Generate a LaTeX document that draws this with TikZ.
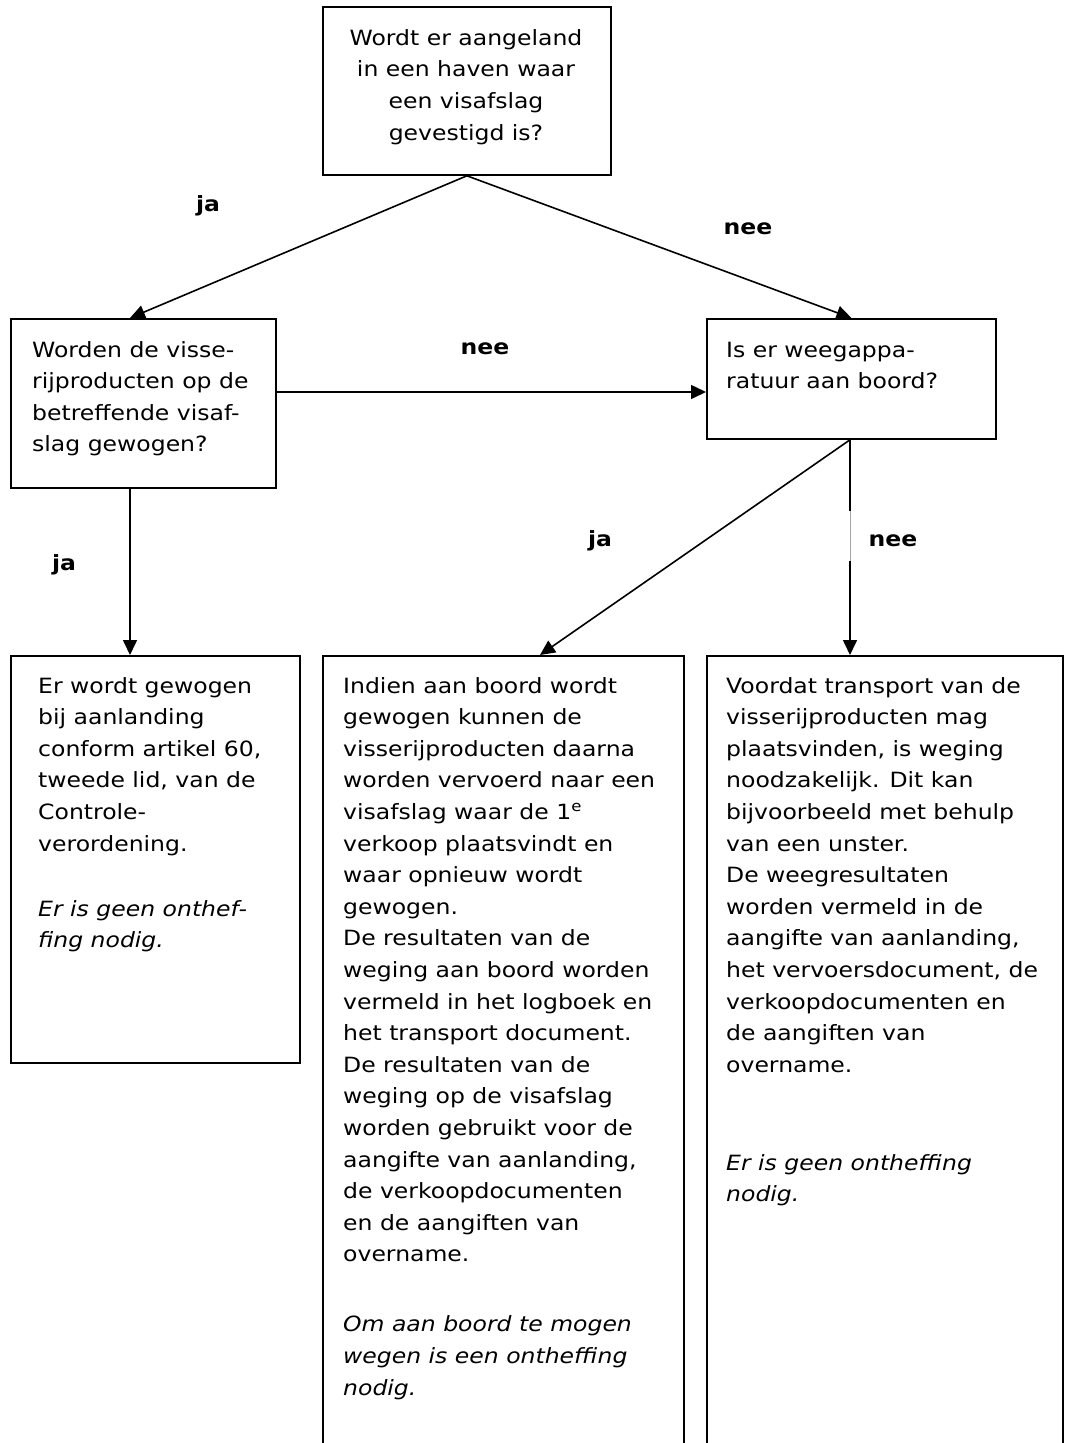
\documentclass[tikz,border=0pt]{standalone}
\usepackage{fontspec}
\setmainfont[FakeStretch=1.12]{DejaVu Sans}
\usetikzlibrary{arrows.meta,calc}
\newcommand\txtblock[1]{\vtop{\baselineskip=31.6pt\lineskiplimit=-100pt\halign{##\hfil\cr#1\crcr}}}
\newcommand\ctrblock[1]{\vtop{\baselineskip=31.8pt\lineskiplimit=-100pt\halign{\hfil##\hfil\cr#1\crcr}}}
\tikzset{
  box/.style={draw=black, line width=1.8pt, inner sep=0pt, anchor=north west},
  txt/.style={anchor=base west, inner sep=0pt},
  lbl/.style={anchor=base, inner sep=0pt, font=\fontsize{21}{31.6}\selectfont\bfseries},
  arr/.style={draw=black, line width=1.6pt, -{Triangle[length=15pt,width=14pt]}}
}
\begin{document}
\begin{tikzpicture}[x=1pt,y=-1pt, every node/.append style={font=\fontsize{21}{31.6}\selectfont}]
\clip (0,0) rectangle (1071,1443);
\fill[white] (0,0) rectangle (1071,1443);
% boxes
\node[box, minimum width=288pt, minimum height=168pt] (q1) at (322,6) {};
\node[box, minimum width=265pt, minimum height=169pt] (q2) at (10,318) {};
\node[box, minimum width=289pt, minimum height=120pt] (q3) at (706,318) {};
\node[box, minimum width=289pt, minimum height=407pt] (r1) at (10,655) {};
\node[box, minimum width=361pt, minimum height=830pt] (r2) at (322,655) {};
\node[box, minimum width=356pt, minimum height=830pt] (r3) at (706,655) {};
% texts
\node[anchor=base, inner sep=0pt] (tq1) at (466,45) {\ctrblock{Wordt er aangeland\cr in een haven waar\cr een visafslag\cr gevestigd is?}};
\node[txt] (tq2) at (32,357) {\txtblock{Worden de visse-\cr rijproducten op de\cr betreffende visaf-\cr slag gewogen?}};
\node[txt] (tq3) at (726,357) {\txtblock{Is er weegappa-\cr ratuur aan boord?}};
\node[txt] (tr1) at (38,693) {\txtblock{Er wordt gewogen\cr bij aanlanding\cr conform artikel 60,\cr tweede lid, van de\cr Controle-\cr verordening.\cr
\noalign{\vskip 33.4pt}
\itshape Er is geen onthef-\cr \itshape fing nodig.}};
\node[txt] (tr2) at (343,693) {\txtblock{Indien aan boord wordt\cr gewogen kunnen de\cr visserijproducten daarna\cr worden vervoerd naar een\cr visafslag waar de 1\textsuperscript{e}\cr verkoop plaatsvindt en\cr waar opnieuw wordt\cr gewogen.\cr De resultaten van de\cr weging aan boord worden\cr vermeld in het logboek en\cr het transport document.\cr De resultaten van de\cr weging op de visafslag\cr worden gebruikt voor de\cr aangifte van aanlanding,\cr de verkoopdocumenten\cr en de aangiften van\cr overname.\cr
\noalign{\vskip 38.4pt}
\itshape Om aan boord te mogen\cr \itshape wegen is een ontheffing\cr \itshape nodig.}};
\node[txt] (tr3) at (726,693) {\txtblock{Voordat transport van de\cr visserijproducten mag\cr plaatsvinden, is weging\cr noodzakelijk. Dit kan\cr bijvoorbeeld met behulp\cr van een unster.\cr De weegresultaten\cr worden vermeld in de\cr aangifte van aanlanding,\cr het vervoersdocument, de\cr verkoopdocumenten en\cr de aangiften van\cr overname.\cr
\noalign{\vskip 66.4pt}
\itshape Er is geen ontheffing\cr \itshape nodig.}};
% connectors
\draw[arr] (q1.south) -- ($(q2.north west)+(120,0)$);
\draw[arr] (q1.south) -- (q3.north);
\draw[arr] ($(q2.north east)+(0,74)$) -- ($(q3.north west)+(0,74)$);
\draw[arr] ($(q2.south west)+(120,0)$) -- ($(r1.north west)+(120,0)$);
\draw[arr] ($(q3.south west)+(144,0)$) -- ($(r2.north west)+(218,0)$);
\draw[arr] ($(q3.south west)+(144,0)$) -- ($(r3.north west)+(144,0)$);
% faint segment on the vertical connector
\draw[white, line width=2.4pt] ($(q3.south west)+(144,71)$) -- ($(q3.south west)+(144,121)$);
\draw[black!35, line width=0.6pt] ($(q3.south west)+(144,71)$) -- ($(q3.south west)+(144,121)$);
% labels
\node[lbl] (l1) at (208,211) {ja};
\node[lbl] (l2) at (748,234) {nee};
\node[lbl] (l3) at (485,354) {nee};
\node[lbl] (l4) at (64,570) {ja};
\node[lbl] (l5) at (600,546) {ja};
\node[lbl] (l6) at (893,546) {nee};
\end{tikzpicture}
\end{document}
